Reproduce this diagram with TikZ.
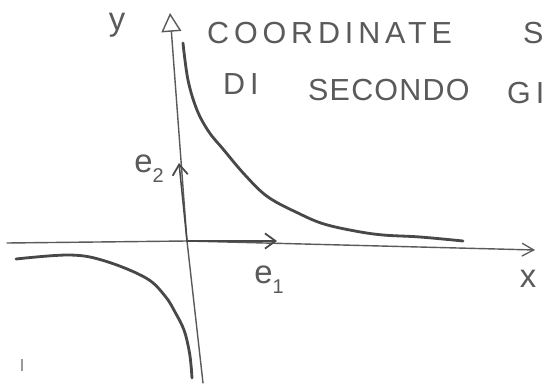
\documentclass[tikz,border=0pt]{standalone}
\usepackage{fontspec}
\newfontfamily\mano[LetterSpace=16]{Liberation Sans}
\newfontfamily\manostretta[LetterSpace=4]{Liberation Sans}
\usetikzlibrary{arrows.meta}
\definecolor{matita}{HTML}{5A5A5A}
\definecolor{matita2}{HTML}{484848}
\definecolor{tenue}{HTML}{9A9A9A}
\newcommand{\pedice}[1]{\raisebox{-0.3em}{\fontsize{17}{20}\selectfont #1}}
\tikzset{
  asse/.style={draw=matita,line width=1.2pt,line cap=round},
  assefreccia/.style={asse,-{Straight Barb[length=10pt,width=11pt,line width=1.1pt]}},
  assey/.style={asse,-{Triangle[open,length=16pt,width=17pt,line width=1.2pt]}},
  versore/.style={draw=matita2,line width=1.3pt,line cap=round,-{Straight Barb[length=9pt,width=13pt,line width=1.5pt]}},
  ramo/.style={draw=matita2,line width=2.4pt,line cap=round,line join=round},
  scritta/.style={font=\mano\fontsize{26}{30}\selectfont,text=matita,inner sep=0pt,anchor=base west},
  etich/.style={font=\mano\fontsize{28}{32}\selectfont,text=matita,inner sep=0pt},
}

\begin{document}
\begin{tikzpicture}[x=0.03cm,y=-0.03cm]
\clip (0,0) rectangle (546,392);
\fill[white] (0,0) rectangle (546,392);
% assi
\coordinate (O) at (187,241);
\coordinate (ytop) at (170,13);
\coordinate (ybot) at (203,383);
\coordinate (xsx) at (7,243);
\coordinate (xdx) at (535,250);
\coordinate (e1) at (277,241);
\coordinate (e2) at (179,163);
\draw[asse] (ybot) -- (O);
\draw[assey] (O) -- (ytop);
\draw[asse] (xsx) -- (O);
\draw[assefreccia] (O) -- (xdx);
\draw[versore] (O) -- (e1);
\draw[versore] (O) -- (e2);
% rami dell'iperbole
\draw[ramo] plot[smooth,tension=0.6] coordinates {(183,43) (188,80) (197,110) (209,132) (223,149) (245,175) (268,197) (300,214) (324,224) (355,231) (383,235) (420,237) (463,241)};
\draw[ramo] plot[smooth,tension=0.6] coordinates {(16,259) (70,255) (105,261) (146,278) (165,296) (175,312) (184,330) (189,350) (191,365) (192,378)};
% etichette
\node[etich] (ly) at (117,25) {y};
\node[etich] (lx) at (528,279) {x};
\node[etich] (le1) at (269,280) {e\pedice{1}};
\node[etich] (le2) at (149,169) {e\pedice{2}};
\node[scritta] (tit1) at (207,43) {COORDINATE};
\node[scritta] (tit1b) at (523,43) {S};
\node[scritta] (tit2) at (223,94) {DI};
\node[scritta,font=\manostretta\fontsize{26}{30}\selectfont] (tit2b) at (308,100) {SECONDO};
\node[scritta] (tit2c) at (507,103) {GI};
\draw[draw=tenue,line width=1pt] (22,359) -- (22,371);
\end{tikzpicture}
\end{document}
